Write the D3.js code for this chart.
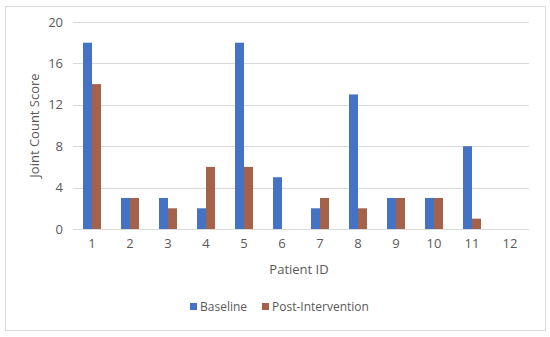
<!DOCTYPE html>
<html>
<head>
<meta charset="utf-8">
<script src="https://cdn.jsdelivr.net/npm/d3@7"></script>
<style>
body { margin: 0; background: #fff; }
text { font-family: "Open Sans", "Noto Sans", sans-serif; fill: #595959; }
</style>
</head>
<body>
<div id="chart-container"></div>
<script>
// data
var patients = ['1','2','3','4','5','6','7','8','9','10','11','12'];
var baseline = [18, 3, 3, 2, 18, 5, 2, 13, 3, 3, 8, 0];
var postIntervention = [14, 3, 2, 6, 6, 0, 3, 2, 3, 3, 1, 0];
var yTicks = [0, 4, 8, 12, 16, 20];
var seriesNames = ['Baseline', 'Post-Intervention'];
var colors = ['#4472C4', '#A5624A'];

var svgW = 550, svgH = 337;
var margin = { top: 22, right: 21, bottom: 108, left: 73 };
var width = svgW - margin.left - margin.right;
var height = svgH - margin.top - margin.bottom;

var svg = d3.select('#chart-container').append('svg')
	.attr('width', svgW)
	.attr('height', svgH);

// outer chart border
svg.append('rect')
	.attr('x', 5.5).attr('y', 6.5)
	.attr('width', 540).attr('height', 324)
	.attr('fill', 'none')
	.attr('stroke', '#D9D9D9');

var g = svg.append('g')
	.attr('transform', 'translate(' + margin.left + ',' + margin.top + ')');

var x = d3.scaleBand().domain(patients).range([0, width]).paddingInner(0).paddingOuter(0);
var x1 = d3.scaleBand().domain(seriesNames).range([0, 18]);
var y = d3.scaleLinear().domain([0, 20]).range([height, 0]);

// grid
g.selectAll('.grid')
	.data(yTicks)
	.enter().append('line')
	.attr('class', 'grid')
	.attr('x1', 0).attr('x2', width)
	.attr('y1', function(d) { return Math.round(y(d)) + 0.5; })
	.attr('y2', function(d) { return Math.round(y(d)) + 0.5; })
	.attr('stroke', '#D9D9D9');

// y axis labels
var yAxis = d3.axisLeft(y).tickValues(yTicks).tickSize(0).tickPadding(10);
g.append('g').attr('class', 'y axis').call(yAxis)
	.call(function(s) { s.select('.domain').remove(); })
	.selectAll('text').style('font-size', '13px').attr('fill', '#595959');

// x axis labels
var xAxis = d3.axisBottom(x).tickSize(0).tickPadding(10);
g.append('g').attr('class', 'x axis')
	.attr('transform', 'translate(0,' + height + ')')
	.call(xAxis)
	.call(function(s) { s.select('.domain').remove(); })
	.selectAll('text').style('font-size', '13px').attr('fill', '#595959');

// bars
var rows = patients.map(function(p, i) {
	return { id: p, vals: [baseline[i], postIntervention[i]] };
});

var groups = g.selectAll('.pgroup')
	.data(rows)
	.enter().append('g')
	.attr('class', 'pgroup')
	.attr('transform', function(d) { return 'translate(' + (x(d.id) + (x.bandwidth() - 18) / 2) + ',0)'; });

groups.selectAll('rect')
	.data(function(d) { return d.vals.map(function(v, j) { return { name: seriesNames[j], v: v, j: j }; }); })
	.enter().append('rect')
	.attr('x', function(d) { return x1(d.name); })
	.attr('width', x1.bandwidth())
	.attr('y', function(d) { return y(d.v); })
	.attr('height', function(d) { return height - y(d.v); })
	.attr('fill', function(d) { return colors[d.j]; });

// axis titles
svg.append('text')
	.attr('transform', 'translate(39,' + (margin.top + height / 2) + ') rotate(-90)')
	.attr('text-anchor', 'middle')
	.style('font-size', '13px')
	.text('Joint Count Score');

svg.append('text')
	.attr('x', margin.left + width / 2 - 2)
	.attr('y', 274)
	.attr('text-anchor', 'middle')
	.style('font-size', '13px')
	.text('Patient ID');

// legend
var legend = svg.append('g').attr('transform', 'translate(190,302)');
var items = [{ x: 0 }, { x: 72 }];
seriesNames.forEach(function(n, i) {
	var it = legend.append('g').attr('transform', 'translate(' + items[i].x + ',0)');
	it.append('rect').attr('width', 7).attr('height', 7).attr('y', 1).attr('fill', colors[i]);
	it.append('text').attr('x', 10).attr('y', 9).style('font-size', '12px').text(n);
});
</script>
</body>
</html>
